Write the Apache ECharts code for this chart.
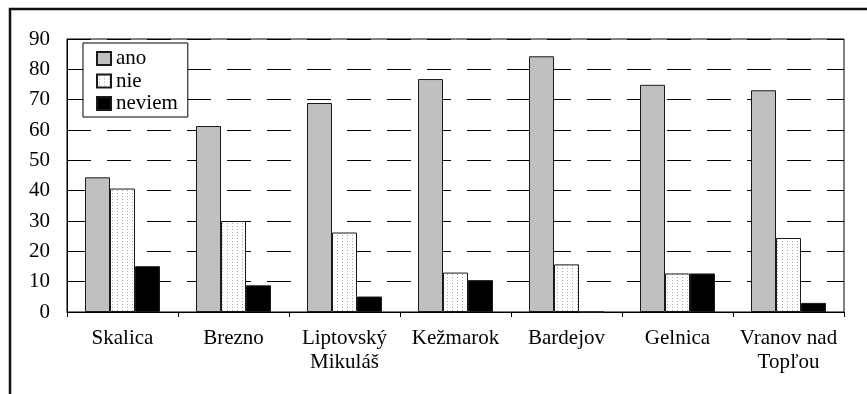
<!DOCTYPE html>
<html>
<head>
<meta charset="utf-8">
<script src="https://cdn.jsdelivr.net/npm/echarts@6/dist/echarts.min.js"></script>
<style>
  html, body { margin: 0; padding: 0; background: #fff; }
  #chart { width: 867px; height: 394px; }
</style>
</head>
<body>
<div id="chart"></div>
<script>
// Districts on the category axis
const districts = ['Skalica', 'Brezno', 'Liptovský\nMikuláš', 'Kežmarok', 'Bardejov', 'Gelnica', 'Vranov nad\nTopľou'];
// Answer shares (%) per district
const ano    = [44.4, 61.3, 68.9, 76.8, 84.3, 74.9, 73.1];
const nie    = [40.7, 30.0, 26.2, 13.0, 15.7, 12.7, 24.4];
const neviem = [15.1, 8.8, 5.1, 10.5, 0, 12.7, 3.0];
const yTicks = { min: 0, max: 90, step: 10 };

// Dotted fill for the "nie" bars
function dotPattern() {
  const c = document.createElement('canvas');
  c.width = 5; c.height = 3;
  const g = c.getContext('2d');
  g.fillStyle = '#fff';
  g.fillRect(0, 0, 5, 3);
  g.fillStyle = '#a8a8a8';
  g.fillRect(2, 1, 1, 1);
  return c;
}

const font = '"Liberation Serif", "Times New Roman", serif';
const chart = echarts.init(document.getElementById('chart'), null, { renderer: 'canvas' });

const barBorder = { borderColor: '#1a1a1a', borderWidth: 1 };

chart.setOption({
  animation: false,
  backgroundColor: '#fff',
  textStyle: { fontFamily: font },
  graphic: [{
    type: 'rect',
    shape: { x: 10, y: 9, width: 900, height: 500 },
    style: { fill: 'none', stroke: '#111', lineWidth: 2.5 },
    silent: true, z: 0
  }],
  grid: {
    left: 67, right: 23, top: 39, bottom: 82,
    show: true, borderColor: '#000', borderWidth: 1, backgroundColor: 'transparent'
  },
  legend: {
    orient: 'vertical',
    left: 83, top: 43,
    padding: [5, 10, 3, 13],
    itemGap: 1.5,
    icon: 'rect',
    itemWidth: 14, itemHeight: 13,
    borderColor: '#000', borderWidth: 1,
    backgroundColor: '#fff',
    textStyle: { fontFamily: font, fontSize: 21, color: '#000', lineHeight: 21 },
    data: ['ano', 'nie', 'neviem']
  },
  xAxis: {
    type: 'category',
    data: districts,
    boundaryGap: true,
    axisLine: { lineStyle: { color: '#000', width: 1 } },
    axisTick: { show: true, length: 5, lineStyle: { color: '#000' } },
    axisLabel: { interval: 0, margin: 14, fontFamily: font, fontSize: 21, lineHeight: 24, color: '#000' },
    splitLine: { show: false }
  },
  yAxis: {
    type: 'value',
    min: yTicks.min, max: yTicks.max, interval: yTicks.step,
    axisLine: { show: true, lineStyle: { color: '#000', width: 1 } },
    axisTick: { show: false },
    axisLabel: { margin: 17, fontFamily: font, fontSize: 21, color: '#000' },
    splitLine: { show: true, lineStyle: { color: '#000', width: 1, type: [24, 16] } }
  },
  series: [
    { name: 'ano', type: 'bar', data: ano, barWidth: 25, barGap: '0%',
      itemStyle: Object.assign({ color: '#c0c0c0' }, barBorder) },
    { name: 'nie', type: 'bar', data: nie, barWidth: 25, barGap: '0%',
      itemStyle: Object.assign({ color: { image: dotPattern(), repeat: 'repeat' } }, barBorder) },
    { name: 'neviem', type: 'bar', data: neviem, barWidth: 25, barGap: '0%',
      itemStyle: Object.assign({ color: '#000' }, barBorder) }
  ]
});
</script>
</body>
</html>
